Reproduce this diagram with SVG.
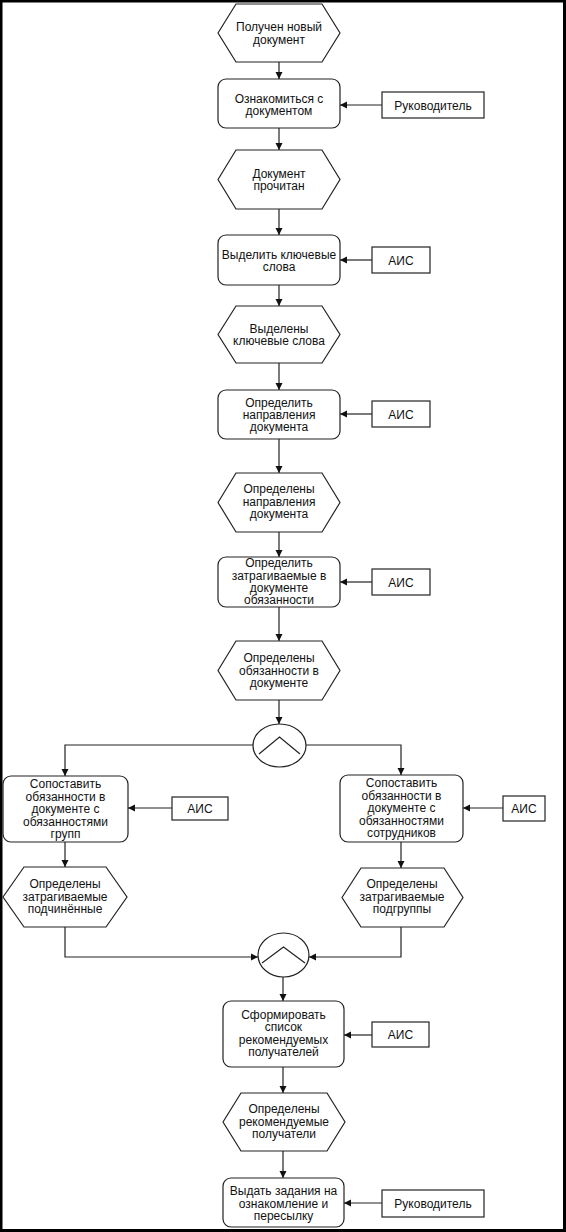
<svg xmlns="http://www.w3.org/2000/svg" width="566" height="1232" viewBox="0 0 566 1232">
<defs>
<marker id="ah" markerWidth="8" markerHeight="8" refX="7" refY="4" orient="auto" markerUnits="userSpaceOnUse">
<path d="M0,0.5 L7,4 L0,7.5 Z" fill="#111"/>
</marker>
<style>
.s{fill:#fff;stroke:#222;stroke-width:1.2}
.c{fill:none;stroke:#222;stroke-width:1.2;marker-end:url(#ah)}
.l{fill:none;stroke:#222;stroke-width:1.2}
text{font-family:"Liberation Sans",Arial,sans-serif;font-size:12px;fill:#111;text-anchor:middle}
</style>
</defs>
<rect x="0" y="0" width="566" height="1232" fill="#fff"/>
<g id="frame" fill="#000">
<rect x="0" y="0" width="566" height="2.5"/>
<rect x="0" y="0" width="2.5" height="1232"/>
<rect x="563" y="0" width="3" height="1232"/>
<rect x="0" y="1229" width="566" height="3"/>
</g>
<g id="connectors">
<path class="c" d="M279,62 V79"/>
<path class="c" d="M382,105 H340"/>
<path class="c" d="M279,128 V150"/>
<path class="c" d="M279,209 V235"/>
<path class="c" d="M372,260 H340"/>
<path class="c" d="M279,285 V306"/>
<path class="c" d="M279,363 V390"/>
<path class="c" d="M372,414 H340"/>
<path class="c" d="M279,439 V473"/>
<path class="c" d="M279,532 V557"/>
<path class="c" d="M372,582 H340"/>
<path class="c" d="M279,607 V641"/>
<path class="c" d="M279,700 V724"/>
<path class="c" d="M253,745 H65 V776"/>
<path class="c" d="M306,745 H401 V775"/>
<path class="c" d="M172,808 H128"/>
<path class="c" d="M503,808 H463"/>
<path class="c" d="M65,842 V867"/>
<path class="c" d="M401,842 V868"/>
<path class="c" d="M65,927 V957 H258"/>
<path class="c" d="M401,927 V957 H309"/>
<path class="c" d="M283,977 V1001"/>
<path class="c" d="M372,1035 H344"/>
<path class="c" d="M283,1067 V1093"/>
<path class="c" d="M283,1151 V1178"/>
<path class="c" d="M382,1203 H344"/>
</g>
<g id="n1"><polygon class="s" points="218,33 236,4 322,4 340,33 322,62 236,62"/><text x="279" y="31">Получен новый</text><text x="279" y="44">документ</text></g>
<g id="n2"><rect class="s" x="218" y="79" width="122" height="49" rx="8"/><text x="279" y="103">Ознакомиться с</text><text x="279" y="115">документом</text></g>
<g id="r1"><rect class="s" x="382" y="92" width="102" height="26"/><text x="433" y="109.5">Руководитель</text></g>
<g id="n3"><polygon class="s" points="218,179.5 236,150 322,150 340,179.5 322,209 236,209"/><text x="279" y="178">Документ</text><text x="279" y="190">прочитан</text></g>
<g id="n4"><rect class="s" x="218" y="235" width="122" height="50" rx="8"/><text x="279" y="259">Выделить ключевые</text><text x="279" y="271">слова</text></g>
<g id="a1"><rect class="s" x="372" y="247" width="58" height="26"/><text x="401" y="264.5">АИС</text></g>
<g id="n5"><polygon class="s" points="218,334.5 236,306 322,306 340,334.5 322,363 236,363"/><text x="279" y="333">Выделены</text><text x="279" y="345">ключевые слова</text></g>
<g id="n6"><rect class="s" x="218" y="390" width="122" height="49" rx="8"/><text x="279" y="407">Определить</text><text x="279" y="419">направления</text><text x="279" y="431">документа</text></g>
<g id="a2"><rect class="s" x="372" y="401" width="58" height="26"/><text x="401" y="418.5">АИС</text></g>
<g id="n7"><polygon class="s" points="218,502.5 236,473 322,473 340,502.5 322,532 236,532"/><text x="279" y="493">Определены</text><text x="279" y="506">направления</text><text x="279" y="518">документа</text></g>
<g id="n8"><rect class="s" x="218" y="557" width="122" height="50" rx="8"/><text x="279" y="567">Определить</text><text x="279" y="580">затрагиваемые в</text><text x="279" y="592">документе</text><text x="279" y="604">обязанности</text></g>
<g id="a3"><rect class="s" x="372" y="569" width="58" height="26"/><text x="401" y="586.5">АИС</text></g>
<g id="n9"><polygon class="s" points="218,670.5 236,641 322,641 340,670.5 322,700 236,700"/><text x="279" y="662">Определены</text><text x="279" y="675">обязанности в</text><text x="279" y="687">документе</text></g>
<g id="x1"><ellipse class="s" cx="279.5" cy="745.5" rx="26.5" ry="21.5"/><path class="l" d="M259,754 L279.5,737 L300,754"/></g>
<g id="n10"><rect class="s" x="3" y="776" width="125" height="66" rx="8"/><text x="65.5" y="788">Сопоставить</text><text x="65.5" y="801">обязанности в</text><text x="65.5" y="813">документе с</text><text x="65.5" y="826">обязанностями</text><text x="65.5" y="838">групп</text></g>
<g id="a4"><rect class="s" x="172" y="797" width="56" height="23"/><text x="200" y="812.5">АИС</text></g>
<g id="n11"><rect class="s" x="340" y="775" width="123" height="67" rx="8"/><text x="401.5" y="787">Сопоставить</text><text x="401.5" y="800">обязанности в</text><text x="401.5" y="812">документе с</text><text x="401.5" y="825">обязанностями</text><text x="401.5" y="837">сотрудников</text></g>
<g id="a5"><rect class="s" x="503" y="796" width="42" height="25"/><text x="524" y="812.5">АИС</text></g>
<g id="n12"><polygon class="s" points="3,897 24,867 106,867 127,897 106,927 24,927"/><text x="65" y="888">Определены</text><text x="65" y="901">затрагиваемые</text><text x="65" y="913">подчинённые</text></g>
<g id="n13"><polygon class="s" points="342,897.5 361,868 444,868 463,897.5 444,927 361,927"/><text x="402" y="888">Определены</text><text x="402" y="901">затрагиваемые</text><text x="402" y="913">подгруппы</text></g>
<g id="x2"><ellipse class="s" cx="283.5" cy="955" rx="25.5" ry="22"/><path class="l" d="M262,963 L283.5,947 L305,963"/></g>
<g id="n14"><rect class="s" x="223" y="1001" width="121" height="66" rx="8"/><text x="283.5" y="1019">Сформировать</text><text x="283.5" y="1031">список</text><text x="283.5" y="1044">рекомендуемых</text><text x="283.5" y="1056">получателей</text></g>
<g id="a6"><rect class="s" x="372" y="1022" width="57" height="25"/><text x="400.5" y="1038.5">АИС</text></g>
<g id="n15"><polygon class="s" points="223,1122 241,1093 327,1093 345,1122 327,1151 241,1151"/><text x="284" y="1113">Определены</text><text x="284" y="1126">рекомендуемые</text><text x="284" y="1138">получатели</text></g>
<g id="n16"><rect class="s" x="223" y="1178" width="121" height="49" rx="8"/><text x="283.5" y="1195">Выдать задания на</text><text x="283.5" y="1208">ознакомление и</text><text x="283.5" y="1220">пересылку</text></g>
<g id="r2"><rect class="s" x="382" y="1190" width="102" height="27"/><text x="433" y="1207.5">Руководитель</text></g>
</svg>
